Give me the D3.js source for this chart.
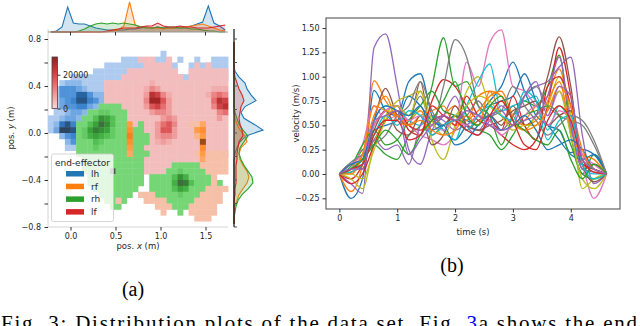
<!DOCTYPE html>
<html>
<head>
<meta charset="utf-8">
<script src="https://cdn.jsdelivr.net/npm/d3@7"></script>
<style>
  body { margin: 0; background: #fff; }
  svg { display: block; font-family: "DejaVu Sans", sans-serif; }
</style>
</head>
<body>
<svg id="fig" width="640" height="326"></svg>
<script>
// ---------- panel (a) data: 2d histogram per end-effector ----------
// cells as [row, startCol, levels], rows from y=0.8 down, cols from x=-0.25 right
const effectors = ["lh", "rf", "rh", "lf"];
const effColors = { lh: "#1f77b4", rf: "#ff7f0e", rh: "#2ca02c", lf: "#d62728" };

const lhCells = [
  [2, 20, "1"],
  [3, 13, "111"], [3, 19, "11"], [3, 23, "1"], [3, 26, "1"], [3, 29, "111"],
  [4, 10, "1111111111111"], [4, 25, "1111111"],
  [5, 8, "111111111111111"], [5, 25, "1111111"],
  [6, 4, "1111111111111111111111111111"],
  [7, 2, "12221111"],
  [8, 1, "144432111"],
  [9, 1, "144477422"],
  [10, 1, "134588542"],
  [11, 1, "134455321"],
  [12, 1, "11233211"],
  [13, 0, "1123321"],
  [14, 0, "126852"],
  [15, 0, "139982"],
  [16, 2, "2451"],
  [17, 3, "24"],
  [18, 3, "11"]
];
const lfCells = [
  [3, 16, "111"], [3, 21, "1"],
  [4, 17, "11111"], [4, 26, "1"], [4, 28, "1"],
  [5, 14, "111111111"], [5, 25, "1111111"],
  [6, 13, "11111111111"], [6, 25, "1111111"],
  [7, 10, "1111111121111111111111"],
  [8, 10, "1111111243111111111222"],
  [9, 10, "1111111387421111112454"],
  [10, 10, "1111111499631111111587"],
  [11, 11, "111111367531111111478"],
  [12, 12, "11111134431111111145"],
  [13, 13, "1111111343111111131"],
  [14, 15, "11113564111111111"],
  [15, 15, "11113663111111111"],
  [16, 17, "113443111111111"],
  [17, 17, "112321111111111"],
  [18, 16, "1111111111111111"],
  [19, 17, "111111111111111"],
  [20, 16, "11111111111"],
  [21, 16, "111111"],
  [22, 16, "11111"]
];
const rhCells = [
  [11, 9, "1111"],
  [12, 7, "1122111"],
  [13, 6, "11365311"],
  [14, 5, "113586311"], [14, 16, "1"],
  [15, 5, "125765211"], [15, 15, "11"],
  [16, 5, "1245432111111"],
  [17, 5, "1113211111111"],
  [18, 5, "111211111111"],
  [19, 5, "1111111111111"],
  [20, 6, "11111111111"],
  [21, 6, "11111111111"], [21, 22, "11111"],
  [22, 6, "11111911111"], [22, 21, "1121111"],
  [23, 7, "1111111111"], [23, 18, "11113641111"],
  [24, 7, "1111111111"], [24, 18, "11114873111"], [24, 30, "1"],
  [25, 8, "11111111"], [25, 18, "1111354111"],
  [26, 9, "111111"], [26, 19, "11112111"],
  [27, 10, "1111"], [27, 21, "11111"],
  [28, 11, "11"], [28, 22, "111"],
  [29, 23, "1"]
];
const rfCells = [
  [14, 14, "4"], [14, 25, "113"],
  [15, 14, "5"], [15, 26, "45"],
  [16, 14, "6"], [16, 26, "24"],
  [17, 14, "5"], [17, 27, "9"],
  [18, 14, "4"], [18, 27, "5"],
  [19, 14, "3"], [19, 26, "141111"],
  [20, 27, "31111"],
  [21, 27, "11111"],
  [22, 28, "1111"],
  [23, 29, "1"],
  [24, 29, "1"],
  [25, 28, "1111"],
  [26, 16, "111"], [26, 27, "1111"],
  [27, 12, "1"], [27, 17, "1111"], [27, 26, "11111"],
  [28, 19, "111"], [28, 25, "11111"],
  [29, 20, "1"], [29, 25, "11111"],
  [30, 26, "111"]
];

// marginal histograms (same 32 bins as the grid)
const topLh = [0,1,5,25,9,8,8,6,4,3,2,2,2,2,3,3,4,5,4,5,4,4,4,4,5,6,8,10,26,9,6,2];
const topRf = [0,0,0,0,0,0,0,0,0,0,0,1,2,6,30,7,5,5,4,4,3,4,4,5,5,6,7,8,6,4,2,1];
const topRh = [0,0,0,0,0,1,3,6,8,9,8,9,8,9,8,7,5,4,4,5,4,5,5,4,4,3,3,2,1,1,0,0];
const topLf = [0,0,0,0,0,0,0,0,0,0,1,2,3,4,4,4,5,6,6,9,6,5,5,6,5,5,4,4,4,5,6,7];
const rightLh = [0,0,0,0,0,1,5,11,13,17,22,11,7,10,20,29,12,6,3,1,0,0,0,0,0,0,0,0,0,0,0,0];
const rightRf = [0,0,0,0,0,0,0,0,0,0,0,0,0,1,3,6,11,13,7,5,6,9,13,15,13,9,5,3,1,0,0,0];
const rightRh = [0,0,0,0,0,0,0,0,0,0,0,0,1,3,5,9,14,10,6,5,7,10,14,18,19,14,8,4,2,1,0,0];
const rightLf = [0,0,0,0,0,0,1,3,5,8,10,7,6,5,6,8,9,5,4,3,3,2,2,2,2,1,1,0,0,0,0,0];

const xTicksA = [0, 0.5, 1.0, 1.5];
const yTicksA = [0.8, 0.6, 0.4, 0.2, 0, -0.2, -0.4, -0.6, -0.8];
const yLabelsA = [0.8, 0.4, 0, -0.4, -0.8];
const cbTicks = [0, 20000];

// ---------- panel (b) data: velocity profiles ----------
const times = [0,0.2,0.4,0.6,0.8,1.0,1.2,1.4,1.6,1.8,2.0,2.2,2.4,2.6,2.8,3.0,3.2,3.4,3.6,3.8,4.0,4.2,4.4,4.62];
const velocities = [
  [0,-0.25,-0.05,0.86,0.65,0.6,0.95,1.03,0.6,0.45,0.35,0.5,0.6,0.75,0.9,1.15,0.85,0.6,0.5,0.35,0.22,0.25,0.2,0],
  [0,-0.18,0.1,0.96,0.75,0.6,0.55,0.65,0.5,0.6,0.7,0.55,0.8,0.85,0.6,0.5,0.55,0.7,0.8,1.08,0.6,0.2,0.05,0],
  [0,0.05,0.25,0.3,0.2,0.15,0.4,0.5,0.9,1.4,0.9,0.95,0.7,0.6,0.3,0.6,0.75,0.7,0.9,1.22,0.4,0.0,0.2,0],
  [0,-0.05,0.1,0.5,0.65,0.7,0.45,0.4,0.75,0.97,0.9,0.7,0.55,0.5,0.4,0.3,0.25,0.35,0.7,1.3,0.8,0.05,0.1,0],
  [0,-0.1,-0.2,1.3,1.44,0.9,0.25,0.1,0.45,0.6,0.8,0.5,0.4,0.55,0.7,0.6,0.8,0.9,0.95,1.1,1.2,0.4,-0.1,0],
  [0,0.1,0.05,0.55,0.88,0.6,0.5,0.95,0.4,0.5,0.6,0.45,0.55,0.6,0.5,0.7,0.5,0.6,1.0,1.41,0.9,0.1,0.05,0],
  [0,0.05,0.3,0.7,0.55,0.6,0.5,0.4,0.35,0.3,0.45,1.15,0.9,1.35,1.48,0.9,0.85,0.7,0.6,0.85,0.5,0.1,-0.25,0],
  [0,0.1,0.15,0.35,0.55,0.7,0.6,0.8,0.5,0.9,1.38,1.2,0.7,0.55,0.45,0.6,0.8,0.9,0.7,0.6,0.55,0.5,0.3,0],
  [0,-0.05,-0.15,0.3,0.6,0.75,0.8,0.85,0.35,0.15,0.5,0.85,1.0,0.7,0.6,0.5,0.45,0.6,0.7,1.0,0.6,-0.15,-0.05,0],
  [0,0.05,0.1,0.55,0.7,0.65,0.55,0.5,0.6,0.45,0.35,0.7,0.95,1.13,0.65,0.7,0.75,0.8,0.45,0.7,0.5,0.05,0.0,0],
  [0,0.05,0.15,0.45,0.5,0.55,0.8,0.7,0.55,0.5,0.6,0.55,0.5,0.7,0.75,0.8,1.03,0.75,0.5,0.45,0.2,0.15,0.2,0],
  [0,0.05,0.2,0.6,0.8,0.55,0.5,0.6,0.65,0.7,0.5,0.55,0.65,0.8,0.85,0.6,0.5,0.55,0.75,0.95,0.45,0.2,0.15,0],
  [0,0.08,0.3,0.45,0.3,0.35,0.55,0.7,0.85,0.65,0.6,0.5,0.45,0.4,0.25,0.4,0.6,0.65,0.7,0.6,0.3,0.0,-0.05,0],
  [0,-0.1,0.0,0.3,0.55,0.65,0.5,0.45,0.55,0.6,0.5,0.8,0.6,0.55,0.45,0.8,0.5,0.35,0.9,1.0,0.7,0.1,0.05,0],
  [0,0.05,0.1,0.35,0.25,0.3,0.1,0.5,0.6,0.55,0.45,0.5,0.45,0.6,0.65,0.5,0.55,0.6,0.8,1.2,0.5,0.05,0.02,0],
  [0,0.02,0.1,0.45,0.65,0.45,0.4,0.6,0.3,0.4,0.7,0.5,0.45,0.5,0.55,0.65,0.7,0.75,0.5,0.6,0.65,0.1,-0.08,0],
  [0,0.1,0.2,0.5,0.65,0.7,0.55,0.6,0.5,0.45,0.55,0.5,0.6,0.55,0.4,0.5,0.6,0.7,0.5,0.65,0.55,0.2,0.1,0],
  [0,0.12,0.2,0.3,0.4,0.6,0.7,0.95,0.65,0.5,0.55,0.6,0.75,0.6,0.65,0.9,0.7,0.55,0.4,0.5,0.6,0.55,0.35,0],
  [0,0.0,-0.05,0.25,0.55,0.7,0.6,0.85,0.55,0.4,0.6,0.7,0.8,0.75,0.6,0.45,0.5,0.5,0.65,0.85,0.4,-0.05,-0.15,0],
  [0,0.02,0.1,0.4,0.6,0.5,0.65,0.6,0.4,0.5,0.55,0.45,0.6,0.7,0.6,0.55,0.85,0.75,0.35,0.55,0.6,0.1,-0.05,0],
  [0,0.1,0.15,0.55,0.7,0.65,0.6,0.7,0.45,0.5,0.3,0.35,0.5,0.6,0.45,0.5,0.6,0.45,0.25,0.3,0.35,0.25,0.05,0],
  [0,0.0,0.2,0.7,0.65,0.6,0.5,0.55,0.45,0.4,0.45,0.6,0.5,0.85,0.8,0.55,0.45,0.5,0.65,0.9,0.7,0.25,0.05,0],
  [0,0.05,0.15,0.3,0.45,0.35,0.2,0.4,0.55,0.75,0.95,0.6,0.5,0.7,0.8,0.55,0.45,0.35,0.3,0.45,0.15,-0.05,0.1,0],
  [0,0.05,0.1,0.4,0.55,0.55,0.35,0.4,0.7,0.6,0.55,0.45,0.4,0.6,0.75,0.55,0.3,0.25,0.55,0.7,0.55,0.15,0.02,0],
  [0,0.05,0.05,0.55,0.6,0.65,0.2,0.35,0.5,0.6,0.55,0.65,0.6,0.5,0.45,0.5,0.8,0.95,0.6,0.9,0.8,0.15,0.05,0]
];
const xTicksB = [0, 1, 2, 3, 4];
const yTicksB = [-0.25, 0, 0.25, 0.5, 0.75, 1.0, 1.25, 1.5];

// ---------- drawing ----------
const svg = d3.select("#fig");
const tickFont = 8;

// grid geometry of the 2d histogram
const gridLeft = -0.25, gridTop = 0.8, binW = 0.0625, binH = 0.05;

const xA = d3.scaleLinear().domain([-0.25, 1.75]).range([48, 228]);
const yA = d3.scaleLinear().domain([-0.8, 0.885]).range([227, 29]);
const yTopM = d3.scaleLinear().domain([0, 30]).range([32, 2]);
const xRightM = d3.scaleLinear().domain([0, 30]).range([234, 264]);

const heatRamps = {
  lh: ["#aecbef", "#5297de", "#1f6fbf", "#2c4560"],
  lf: ["#f3bdbd", "#ee9494", "#e0474a", "#a32626"],
  rh: ["#76d676", "#45b845", "#2d8c2d", "#475a47"],
  rf: ["#f6bfa8", "#ffa04a", "#ff7f0e", "#9a4b1c"]
};

const gA = svg.append("g");

// spines
gA.append("line")
    .attr("x1", xA.range()[0]).attr("x2", xA.range()[0])
    .attr("y1", yA.range()[1]).attr("y2", yA.range()[0])
    .attr("stroke", "#d6d6d6");
gA.append("line")
    .attr("x1", xA.range()[0]).attr("x2", xA.range()[1])
    .attr("y1", yA.range()[0]).attr("y2", yA.range()[0])
    .attr("stroke", "#d6d6d6");

// heatmap layers
[["lh", lhCells], ["lf", lfCells], ["rh", rhCells], ["rf", rfCells]].forEach(([key, list]) => {
    const ramp = d3.interpolateRgbBasis(heatRamps[key]);
    const cells = [];
    list.forEach(([r, c0, lv]) => {
        lv.split("").forEach((ch, i) => cells.push({ r, c: c0 + i, v: +ch }));
    });
    gA.append("g").selectAll("rect")
      .data(cells)
      .join("rect")
        .attr("x", d => xA(gridLeft + d.c * binW))
        .attr("y", d => yA(gridTop - d.r * binH))
        .attr("width", xA(binW) - xA(0) + 0.4)
        .attr("height", yA(0) - yA(binH) + 0.4)
        .attr("fill", d => ramp((d.v - 1) / 8));
});

// axes of the joint plot
const fmt1 = d3.format(".1f");
const xAxisA = gA.append("g")
    .attr("transform", `translate(0, ${yA.range()[0]})`)
    .call(d3.axisBottom(xA).tickValues(xTicksA).tickFormat(fmt1).tickSize(3.5).tickPadding(2.5));
const yAxisA = gA.append("g")
    .attr("transform", `translate(${xA.range()[0]}, 0)`)
    .call(d3.axisLeft(yA).tickValues(yTicksA)
        .tickFormat(d => yLabelsA.includes(d) ? fmt1(d) : "").tickSize(3.5).tickPadding(3.5));
[xAxisA, yAxisA].forEach(ax => {
    ax.select(".domain").remove();
    ax.selectAll(".tick line").attr("stroke", "#333");
    ax.selectAll("text").attr("font-size", tickFont).attr("fill", "#262626")
      .attr("font-family", "DejaVu Sans");
});

gA.append("text")
    .attr("x", (xA.range()[0] + xA.range()[1]) / 2)
    .attr("y", 249)
    .attr("text-anchor", "middle")
    .attr("font-size", 8.5)
    .attr("fill", "#262626")
    .html('pos. <tspan font-style="italic">x</tspan> (m)');
gA.append("text")
    .attr("transform", `translate(14, ${(yA.range()[0] + yA.range()[1]) / 2}) rotate(-90)`)
    .attr("text-anchor", "middle")
    .attr("font-size", 8.5)
    .attr("fill", "#262626")
    .html('pos. <tspan font-style="italic">y</tspan> (m)');

// marginal histograms, drawn through the bin centres
const topData = { lh: topLh, rf: topRf, rh: topRh, lf: topLf };
const rightData = { lh: rightLh, rf: rightRf, rh: rightRh, lf: rightLf };

effectors.forEach(k => {
    const pts = topData[k].map((v, i) => [gridLeft + (i + 0.5) * binW, v]);
    gA.append("path").datum(pts)
        .attr("d", d3.area().x(d => xA(d[0])).y0(yTopM(0)).y1(d => yTopM(d[1])))
        .attr("fill", effColors[k]).attr("fill-opacity", 0.2);
    gA.append("path").datum(pts)
        .attr("d", d3.line().x(d => xA(d[0])).y(d => yTopM(d[1])))
        .attr("fill", "none").attr("stroke", effColors[k]).attr("stroke-width", 1.1);
});
effectors.forEach(k => {
    const pts = rightData[k].map((v, i) => [v, gridTop - (i + 0.5) * binH]);
    gA.append("path").datum(pts)
        .attr("d", d3.area().y(d => yA(d[1])).x0(xRightM(0)).x1(d => xRightM(d[0])))
        .attr("fill", effColors[k]).attr("fill-opacity", 0.2);
    gA.append("path").datum(pts)
        .attr("d", d3.line().x(d => xRightM(d[0])).y(d => yA(d[1])))
        .attr("fill", "none").attr("stroke", effColors[k]).attr("stroke-width", 1.1);
});

// marginal axes
gA.append("line")
    .attr("x1", xA.range()[0]).attr("x2", xA.range()[1])
    .attr("y1", yTopM(0)).attr("y2", yTopM(0))
    .attr("stroke", "#999");
gA.append("g").selectAll("line").data(xTicksA).join("line")
    .attr("x1", d => xA(d)).attr("x2", d => xA(d))
    .attr("y1", yTopM(0)).attr("y2", yTopM(0) + 3.5)
    .attr("stroke", "#333");
gA.append("line")
    .attr("x1", xRightM(0)).attr("x2", xRightM(0))
    .attr("y1", yA.range()[1]).attr("y2", yA.range()[0])
    .attr("stroke", "#222").attr("stroke-width", 1.3);
gA.append("g").selectAll("line").data(yTicksA).join("line")
    .attr("x1", xRightM(0)).attr("x2", xRightM(0) + 3)
    .attr("y1", d => yA(d)).attr("y2", d => yA(d))
    .attr("stroke", "#555");

// colorbar (lf counts)
const cbScale = d3.scaleLinear().domain([0, 30500]).range([108.5, 57]);
const cbRamp = d3.interpolateRgbBasis(["#f8d6d6", "#f09090", "#e23a3a", "#8c2323"]);
const defs = svg.append("defs");
const grad = defs.append("linearGradient")
    .attr("id", "cb-grad")
    .attr("x1", "0%").attr("y1", "100%").attr("x2", "0%").attr("y2", "0%");
grad.selectAll("stop")
    .data(d3.range(0, 1.0001, 0.1))
    .join("stop")
    .attr("offset", d => `${d * 100}%`)
    .attr("stop-color", d => cbRamp(d));
gA.append("rect")
    .attr("x", 52).attr("y", cbScale.range()[1])
    .attr("width", 5.5).attr("height", cbScale.range()[0] - cbScale.range()[1])
    .attr("fill", "url(#cb-grad)")
    .attr("stroke", "#444").attr("stroke-width", 0.8);
const cbAxis = gA.append("g")
    .attr("transform", "translate(57.5, 0)")
    .call(d3.axisRight(cbScale).tickValues(cbTicks).tickSize(3).tickPadding(2.5).tickFormat(d3.format("d")));
cbAxis.select(".domain").remove();
cbAxis.selectAll(".tick line").attr("stroke", "#333");
cbAxis.selectAll("text").attr("font-size", tickFont).attr("fill", "#262626").attr("font-family", "DejaVu Sans");

// legend
const legend = gA.append("g");
legend.append("rect")
    .attr("x", 51.5).attr("y", 154).attr("width", 62).attr("height", 67.5)
    .attr("rx", 2)
    .attr("fill", "#fff").attr("fill-opacity", 0.8)
    .attr("stroke", "#ccc").attr("stroke-width", 0.8);
legend.append("text")
    .attr("x", 82.5).attr("y", 165.5)
    .attr("text-anchor", "middle")
    .attr("font-size", 9).attr("fill", "#262626")
    .text("end-effector");
const legItems = legend.selectAll("g.item").data(effectors).join("g")
    .attr("class", "item")
    .attr("transform", (d, i) => `translate(66, ${171 + i * 12.7})`);
legItems.append("rect")
    .attr("width", 18).attr("height", 5.5)
    .attr("fill", d => effColors[d]);
legItems.append("text")
    .attr("x", 25).attr("y", 6)
    .attr("font-size", 9).attr("fill", "#262626")
    .text(d => d);

// ---------- panel (b) ----------
const xB = d3.scaleLinear().domain([-0.231, 4.851]).range([326, 620]);
const yB = d3.scaleLinear().domain([-0.36, 1.603]).range([209, 18]);
const gB = svg.append("g");

const line = d3.line()
    .x((d, i) => xB(times[i]))
    .y(d => yB(d))
    .curve(d3.curveMonotoneX);
gB.append("g").selectAll("path")
    .data(velocities)
    .join("path")
      .attr("d", line)
      .attr("fill", "none")
      .attr("stroke", (d, i) => d3.schemeCategory10[i % 10])
      .attr("stroke-width", 1.3);

gB.append("rect")
    .attr("x", xB.range()[0]).attr("y", yB.range()[1])
    .attr("width", xB.range()[1] - xB.range()[0])
    .attr("height", yB.range()[0] - yB.range()[1])
    .attr("fill", "none").attr("stroke", "#555").attr("stroke-width", 1.1);

const xAxisB = gB.append("g")
    .attr("transform", `translate(0, ${yB.range()[0]})`)
    .call(d3.axisBottom(xB).tickValues(xTicksB).tickFormat(d3.format("d")).tickSize(3.5).tickPadding(2.5));
const yAxisB = gB.append("g")
    .attr("transform", `translate(${xB.range()[0]}, 0)`)
    .call(d3.axisLeft(yB).tickValues(yTicksB).tickFormat(d3.format(".2f")).tickSize(3.5).tickPadding(3));
[xAxisB, yAxisB].forEach(ax => {
    ax.select(".domain").remove();
    ax.selectAll(".tick line").attr("stroke", "#333");
    ax.selectAll("text").attr("font-size", tickFont).attr("fill", "#262626")
      .attr("font-family", "DejaVu Sans");
});

gB.append("text")
    .attr("x", (xB.range()[0] + xB.range()[1]) / 2)
    .attr("y", 235)
    .attr("text-anchor", "middle")
    .attr("font-size", 8.5).attr("fill", "#262626")
    .text("time (s)");
gB.append("text")
    .attr("transform", `translate(299, ${(yB.range()[0] + yB.range()[1]) / 2}) rotate(-90)`)
    .attr("text-anchor", "middle")
    .attr("font-size", 8.5).attr("fill", "#262626")
    .text("velocity (m/s)");

// ---------- sub-captions and caption ----------
svg.append("text")
    .attr("x", 133).attr("y", 296)
    .attr("text-anchor", "middle")
    .style("font-family", "'Liberation Serif', serif").attr("font-size", 20)
    .text("(a)");
svg.append("text")
    .attr("x", 452).attr("y", 272)
    .attr("text-anchor", "middle")
    .style("font-family", "'Liberation Serif', serif").attr("font-size", 20)
    .text("(b)");
svg.append("text")
    .attr("x", 1).attr("y", 330)
    .style("font-family", "'Liberation Serif', serif").attr("font-size", 21)
    .attr("textLength", 636).attr("lengthAdjust", "spacing")
    .html('Fig. 3: Distribution plots of the data set. Fig. <tspan fill="#0000ff">3</tspan>a shows the end');
</script>
</body>
</html>
